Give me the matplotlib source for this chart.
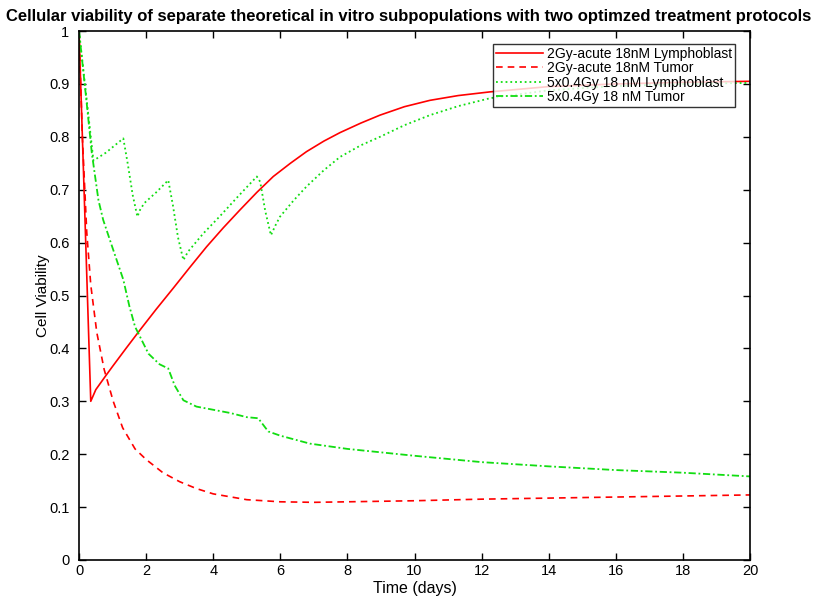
import matplotlib
matplotlib.use("Agg")
import matplotlib.pyplot as plt

# ---- dados ----
t_ac_ly = [0, 0.35, 0.5, 0.77, 1.0, 1.4, 1.82, 2.3, 2.81, 3.3, 3.8, 4.3, 4.8, 5.3, 5.79, 6.3, 6.78, 7.3, 7.78, 8.4, 8.97, 9.7, 10.46, 11.3, 12.25, 14.0, 16.0, 18.0, 20.0]
v_ac_ly = [1.0, 0.30, 0.322, 0.346, 0.366, 0.40, 0.435, 0.474, 0.514, 0.553, 0.592, 0.628, 0.662, 0.695, 0.725, 0.75, 0.772, 0.792, 0.808, 0.826, 0.841, 0.857, 0.869, 0.878, 0.885, 0.895, 0.90, 0.903, 0.905]

t_ac_tu = [0, 0.05, 0.1, 0.23, 0.35, 0.53, 0.75, 1.02, 1.3, 1.67, 2.0, 2.5, 3.0, 3.5, 4.0, 5.0, 6.0, 7.0, 8.0, 10.0, 12.0, 14.0, 16.0, 18.0, 20.0]
v_ac_tu = [1.0, 0.9, 0.80, 0.62, 0.52, 0.43, 0.36, 0.30, 0.25, 0.21, 0.19, 0.165, 0.148, 0.135, 0.125, 0.114, 0.11, 0.109, 0.110, 0.112, 0.115, 0.117, 0.119, 0.121, 0.123]

t_fr_ly = [0, 0.43, 0.8, 1.32, 1.45, 1.6, 1.74, 1.82, 1.95, 2.3, 2.66, 2.8, 2.95, 3.11, 3.25, 3.7, 4.2, 4.75, 5.3, 5.4, 5.55, 5.72, 5.85, 5.99, 6.4, 6.78, 7.3, 7.78, 8.4, 8.97, 9.7, 10.46, 11.3, 12.25, 14.0, 16.0, 18.0, 20.0]
v_fr_ly = [1.0, 0.755, 0.77, 0.797, 0.75, 0.69, 0.649, 0.662, 0.675, 0.695, 0.718, 0.67, 0.61, 0.567, 0.583, 0.617, 0.65, 0.688, 0.725, 0.715, 0.66, 0.614, 0.632, 0.649, 0.68, 0.706, 0.737, 0.762, 0.784, 0.80, 0.822, 0.841, 0.858, 0.873, 0.888, 0.896, 0.90, 0.902]

t_fr_tu = [0, 0.23, 0.38, 0.58, 0.72, 1.0, 1.32, 1.5, 1.67, 2.07, 2.4, 2.66, 2.85, 3.11, 3.5, 4.0, 4.5, 5.0, 5.34, 5.64, 6.0, 6.88, 8.0, 10.0, 12.0, 14.0, 16.0, 18.0, 20.0]
v_fr_tu = [1.0, 0.863, 0.77, 0.68, 0.643, 0.59, 0.53, 0.48, 0.441, 0.39, 0.37, 0.362, 0.33, 0.302, 0.29, 0.284, 0.278, 0.27, 0.268, 0.243, 0.235, 0.22, 0.21, 0.197, 0.185, 0.177, 0.170, 0.165, 0.158]

legendas = ["2Gy-acute 18nM Lymphoblast", "2Gy-acute 18nM Tumor",
            "5x0.4Gy 18 nM Lymphoblast", "5x0.4Gy 18 nM Tumor"]
titulo = "Cellular viability of separate theoretical in vitro subpopulations with two optimzed treatment protocols"

plt.rcParams['font.family'] = 'Liberation Sans'

fig = plt.figure(figsize=(8.18, 5.97), dpi=100)
ax = fig.add_axes([0.0966, 0.062, 0.8203, 0.886])

verde = '#11dd11'
ax.plot(t_ac_ly, v_ac_ly, '-', color='red', lw=1.2, label=legendas[0])
ax.plot(t_ac_tu, v_ac_tu, '--', color='red', lw=1.2, label=legendas[1], dashes=(4, 3))
ax.plot(t_fr_ly, v_fr_ly, ':', color=verde, lw=1.3, label=legendas[2])
ax.plot(t_fr_tu, v_fr_tu, '-.', color=verde, lw=1.3, label=legendas[3], dashes=(4, 1.5, 1, 1.5))

ax.set_xlim(0, 20)
ax.set_ylim(0, 1)
ax.set_xticks(range(0, 21, 2))
ax.set_yticks([i / 10 for i in range(11)])
ax.set_yticklabels(["0"] + ["0.%d" % i for i in range(1, 10)] + ["1"])
ax.tick_params(direction='in', top=True, right=True, length=5, width=1, labelsize=10.5)
ax.tick_params(axis='x', pad=3)
ax.tick_params(axis='y', pad=7)
for s in ax.spines.values():
    s.set_linewidth(1.2)

ax.set_xlabel("Time (days)", fontsize=11.5, labelpad=2)
ax.set_ylabel("Cell Viability", fontsize=11, labelpad=-1)
fig.text(0.5, 0.985, titulo, fontsize=12, fontweight='bold', ha='center', va='top')

leg = ax.legend(loc='upper right', bbox_to_anchor=(0.978, 0.975), fontsize=10, frameon=True,
                fancybox=False, edgecolor='black', borderpad=0.2, labelspacing=0.02,
                handlelength=3.4, handletextpad=0.3, borderaxespad=0)
leg.get_frame().set_linewidth(1.0)

plt.savefig("out.png", dpi=100)
